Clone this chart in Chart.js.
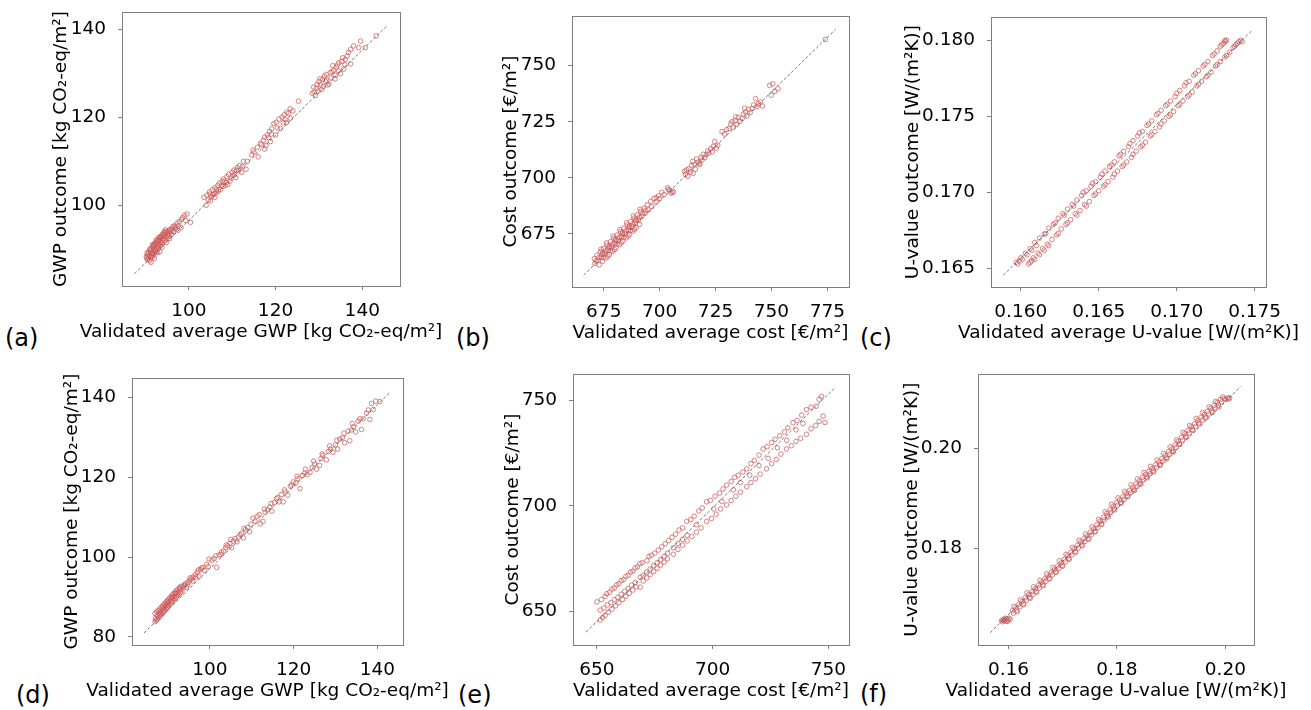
<!DOCTYPE html>
<html>
<head>
<meta charset="utf-8">
<script src="https://cdn.jsdelivr.net/npm/chart.js@4"></script>
<style>
  body { margin: 0; width: 1311px; height: 710px; overflow: hidden; background: #fff; position: relative; font-family: 'DejaVu Sans', sans-serif; }
  canvas { position: absolute; }
  .tag { position: absolute; font-size: 24px; line-height: 24px; color: #000; }
</style>
</head>
<body>
<div class="tag" style="left:5px;top:326px">(a)</div>
<div class="tag" style="left:456px;top:326px">(b)</div>
<div class="tag" style="left:860px;top:326px">(c)</div>
<div class="tag" style="left:16px;top:683px">(d)</div>
<div class="tag" style="left:458px;top:683px">(e)</div>
<div class="tag" style="left:860px;top:682px">(f)</div>
<canvas id="a"></canvas>
<canvas id="b"></canvas>
<canvas id="c"></canvas>
<canvas id="d"></canvas>
<canvas id="e"></canvas>
<canvas id="f"></canvas>
<script>
// (a) GWP, top row: [validated average, outcome]
const gwpTop = [
  [90.2,88.3],[90.5,88.8],[90.8,89.2],[91.0,88.6],[91.2,89.6],[91.4,90.0],[91.6,89.2],[91.8,90.4],[92.0,90.8],[92.2,90.0],
  [92.4,91.2],[92.6,91.5],[92.8,90.6],[93.0,91.9],[93.2,92.2],[93.4,91.3],[93.6,92.6],[93.8,92.9],[94.0,92.0],[94.2,93.3],
  [94.5,93.7],[94.8,92.8],[95.0,94.0],[95.3,93.5],[90.6,87.8],[91.0,87.4],[91.5,88.2],[92.0,88.9],[92.5,89.5],[93.0,90.2],
  [93.5,90.8],[94.0,91.4],[94.5,92.0],[95.0,92.5],[95.5,93.0],[96.0,93.4],[96.5,94.0],[91.3,87.0],[92.1,87.9],[93.3,89.4],
  [96.2,94.8],[96.8,95.3],[97.3,95.9],[97.8,96.2],[98.3,96.8],[99.0,97.7],[99.6,98.0],[100.4,96.1],[97.5,94.3],[98.2,94.9],
  [95.8,94.5],[90.4,89.2],[91.1,90.1],[91.9,91.0],[92.7,92.0],[93.5,92.9],[94.3,93.9],
  [90.3,88.0],[90.7,88.4],[90.9,89.8],[91.2,88.2],[91.5,89.0],[91.7,90.6],[91.9,89.6],[92.1,91.3],[92.3,89.4],[92.6,90.2],
  [92.9,91.6],[93.1,90.8],[93.3,92.6],[93.6,91.6],[93.9,93.4],[94.1,92.4],[94.4,93.0],[94.7,94.0],[95.1,93.2],[95.4,94.3],
  [95.7,93.8],[96.1,94.2],[96.4,95.2],[96.9,94.6],[90.5,87.6],[91.8,88.4],[92.8,89.2],[93.8,90.4],[94.8,91.5],[95.6,92.4],
  [97.0,95.0],[98.6,97.2],[99.3,96.5],[97.6,95.3],[92.4,92.0],[93.0,92.6],[91.6,91.0],[94.6,94.4],
  [103.5,101.8],[104.2,102.3],[104.8,103.0],[105.2,102.0],[105.5,103.5],[106.0,104.0],[106.3,102.8],[106.7,104.5],[107.0,105.0],[107.3,103.6],
  [107.7,105.5],[108.0,106.0],[108.4,104.5],[108.8,106.5],[109.2,107.0],[109.5,105.5],[110.0,107.5],[110.4,108.0],[110.8,106.3],[111.2,108.6],
  [111.7,109.0],[112.2,107.5],[112.6,110.0],[104.0,100.0],[105.0,101.0],[106.0,101.8],[109.0,104.7],[113.2,108.2],[105.8,102.6],[107.5,104.4],
  [104.5,101.2],[105.6,102.4],[106.8,103.2],[107.9,104.3],[108.7,105.2],[109.8,106.2],[110.6,107.0],[111.5,107.9],[112.4,108.8],[106.4,103.6],
  [108.2,105.4],[110.2,106.8],[104.9,102.5],[111.0,108.0],
  [113.5,110.0],[114.5,111.5],[115.0,112.1],[115.8,113.2],[116.5,114.1],[117.2,114.8],[117.5,115.5],[118.1,116.0],[118.6,116.8],[119.1,117.4],
  [119.6,118.6],[120.2,118.9],[120.8,119.6],[121.5,120.1],[122.0,120.6],[122.6,121.2],[123.4,122.0],[125.3,123.7],[116.0,111.0],[117.5,112.8],
  [118.8,114.5],[120.0,116.0],[121.1,117.5],[122.5,118.8],[123.4,119.8],[119.0,116.2],[121.8,118.8],
  [114.8,112.6],[116.8,113.8],[118.4,115.4],[120.4,117.6],[122.2,119.5],[123.0,120.9],[124.0,121.5],[117.8,113.6],
  [128.5,125.5],[128.8,126.9],[129.2,125.0],[129.6,127.5],[130.0,128.2],[130.3,128.8],[130.6,126.3],[131.0,127.0],[131.3,129.4],[131.7,129.8],
  [132.0,127.4],[132.3,127.6],[132.6,130.2],[133.0,130.4],[133.4,130.7],[133.7,128.8],[134.0,131.5],[134.3,132.0],[134.6,132.5],[135.0,130.0],
  [135.3,132.8],[135.7,131.0],[136.1,133.2],[136.5,134.0],[137.3,132.2],[137.3,135.5],[138.0,136.3],[139.2,135.9],[139.6,137.4],[140.7,135.9],
  [143.2,138.6],[129.8,126.0],[131.8,128.5],[133.8,129.6],
  [128.9,125.8],[130.4,127.4],[131.5,128.2],[132.8,129.0],[134.5,130.6],[135.5,133.6],[136.8,134.8],[133.2,131.8],[130.9,128.7],[129.4,126.6],
  [136.0,132.0]
];
const gwpTopFit = [[87.5, 84.4], [145.6, 140.8]];
const gwpTopXTicks = [100, 120, 140];
const gwpTopYTicks = [100, 120, 140];

// (b) cost, top row
const costTop = [
  [672.0,665.5],[673.5,667.0],[675.0,668.5],[676.5,670.0],[678.0,671.5],[679.5,673.0],[681.0,674.5],[682.5,676.0],[684.0,677.5],[685.5,679.0],
  [687.0,680.5],[688.5,682.0],[690.0,683.5],[691.5,685.0],[693.0,686.5],[694.5,688.0],[696.0,689.5],[697.5,690.8],
  [671.0,661.8],[672.5,663.2],[674.0,664.7],[675.5,666.2],[677.0,667.7],[678.5,669.2],[680.0,670.7],[681.5,672.2],[683.0,673.7],[684.5,675.2],
  [686.0,676.7],[687.5,678.2],[689.0,679.7],[690.5,681.2],[692.0,682.7],[693.5,684.2],[695.0,685.7],[696.5,687.2],[698.5,689.2],[700.0,690.7],
  [702.0,692.5],[704.5,694.5],[706.0,694.0],
  [673.0,661.2],[674.5,662.7],[676.0,664.2],[677.5,665.7],[679.0,667.2],[680.5,668.7],[682.0,670.2],[683.5,671.7],[685.0,673.2],[686.5,674.7],
  [688.0,676.2],[689.5,677.7],[691.0,679.2],
  [674.5,666.5],[677.5,669.5],[680.5,672.5],[683.5,675.5],[686.5,678.5],[689.5,681.5],[675.0,664.5],[678.0,667.5],[681.0,670.5],[684.0,673.5],
  [687.0,676.5],[670.8,664.0],[671.5,663.0],
  [672.8,664.5],[674.2,665.9],[675.8,667.4],[677.2,668.9],[678.8,670.4],[680.2,671.9],[681.8,673.4],[683.2,674.9],[684.8,676.4],[686.2,677.9],
  [687.8,679.4],[689.2,680.9],[690.8,682.4],[692.2,684.0],[693.8,685.5],[676.8,665.0],[679.8,668.0],[682.8,671.0],[685.8,674.0],[688.8,677.0],
  [673.8,668.2],[676.2,671.0],[679.2,674.0],[682.2,677.0],[685.2,680.0],[688.2,683.0],[691.2,686.0],
  [698.5,691.1],[699.5,692.0],[703.6,695.6],[703.8,694.8],[705.0,693.2],[705.9,693.4],[701.0,693.5],
  [711.1,702.9],[711.5,701.5],[712.0,703.5],[712.6,700.7],[713.0,704.0],[713.8,702.5],[714.3,705.5],[714.8,707.3],[715.5,706.0],[716.0,703.8],
  [716.5,708.5],[717.2,707.0],[717.8,705.9],[718.5,709.0],[719.0,708.0],[719.5,710.5],[720.2,709.0],[720.8,710.3],[721.5,712.0],[722.0,711.0],
  [722.8,713.0],[723.5,711.5],[724.0,714.0],[724.6,716.2],[725.3,713.2],[726.0,714.5],[715.0,702.0],[718.0,706.5],
  [727.9,720.6],[729.0,719.5],[730.0,721.5],[731.0,722.0],[731.8,724.0],[732.4,725.0],[733.0,722.5],[733.8,725.5],[734.5,723.8],[735.2,727.0],
  [736.0,725.2],[736.9,726.4],[737.5,728.5],[738.4,729.4],[739.0,727.5],[739.8,730.5],[740.5,729.0],[741.4,730.9],[742.0,732.5],[742.9,735.3],
  [743.5,731.8],[744.2,733.0],[745.1,733.8],[746.0,732.0],[734.0,727.2],[738.0,731.0],
  [749.2,741.2],[750.6,741.9],[749.9,736.8],[752.9,739.7],[751.5,738.5],[774.1,761.7]
];
const costTopFit = [[666.0, 656.6], [778.6, 766.1]];
const costTopXTicks = [675, 700, 725, 750, 775];
const costTopYTicks = [675, 700, 725, 750];

// (c) U-value, top row
const uTop = [
  [0.1597,0.1654],[0.1598,0.1653],[0.1599,0.1655],[0.1600,0.1657],[0.1601,0.1656],[0.1603,0.1660],[0.1604,0.1659],[0.1606,0.1663],[0.1607,0.1662],[0.1609,0.1667],
  [0.1610,0.1665],[0.1612,0.1670],[0.1615,0.16725],[0.1616,0.1673],[0.1618,0.16765],[0.1621,0.1679],[0.1622,0.1680],[0.1624,0.1683],[0.1627,0.1686],[0.1628,0.1685],
  [0.1630,0.1689],[0.1633,0.1692],[0.1634,0.1691],[0.1636,0.1695],[0.1639,0.1698],[0.1640,0.1700],[0.1642,0.1701],[0.1645,0.1704],[0.1646,0.1706],[0.1648,0.1707],
  [0.1651,0.1710],[0.1652,0.1712],[0.1654,0.1714],[0.1657,0.1717],[0.1658,0.1718],[0.1660,0.1720],[0.1663,0.1724],[0.1664,0.1725],[0.1666,0.1727],[0.1669,0.1730],
  [0.1670,0.1732],[0.1672,0.1734],[0.1675,0.1737],[0.1676,0.1739],[0.1678,0.1740],[0.1681,0.1744],[0.1682,0.1745],[0.1684,0.1747],[0.1687,0.1751],[0.1688,0.1752],
  [0.1690,0.1754],[0.1693,0.1757],[0.1694,0.1758],[0.1696,0.1760],[0.1699,0.1763],[0.1700,0.1765],[0.1702,0.1767],[0.1705,0.1770],[0.1706,0.1772],[0.1708,0.1773],
  [0.1711,0.1777],[0.1712,0.1778],[0.1714,0.1780],[0.1717,0.1783],[0.1718,0.1784],[0.1720,0.1786],[0.1723,0.1790],[0.1724,0.1791],[0.1726,0.1793],[0.1728,0.1796],
  [0.1729,0.1797],[0.1730,0.1798],[0.1731,0.1799],[0.1732,0.1800],[0.1731,0.1800],
  [0.1605,0.1653],[0.1606,0.1654],[0.1607,0.1655],[0.1608,0.1657],[0.1609,0.1656],[0.1611,0.1660],[0.1612,0.1659],[0.1614,0.1663],[0.1615,0.1662],[0.1617,0.1666],
  [0.1618,0.1665],[0.1620,0.1669],[0.1623,0.1672],[0.1624,0.1673],[0.1626,0.1676],[0.1629,0.1679],[0.1630,0.1680],[0.1632,0.1682],[0.1635,0.1686],[0.1636,0.1685],
  [0.1638,0.1688],[0.1641,0.1692],[0.1642,0.1691],[0.1644,0.1694],[0.1647,0.1698],[0.1648,0.1699],[0.1650,0.1701],[0.1653,0.1704],[0.1654,0.1705],[0.1656,0.1707],
  [0.1659,0.1710],[0.1660,0.1712],[0.1662,0.1714],[0.1665,0.1717],[0.1666,0.1718],[0.1668,0.1720],[0.1671,0.1723],[0.1672,0.1725],[0.1674,0.1727],[0.1677,0.1730],
  [0.1678,0.1731],[0.1680,0.1733],[0.1683,0.1737],[0.1684,0.1738],[0.1686,0.1740],[0.1689,0.1743],[0.1690,0.1745],[0.1692,0.1747],[0.1695,0.1750],[0.1696,0.1751],
  [0.1698,0.1753],[0.1701,0.1757],[0.1702,0.1758],[0.1704,0.1760],[0.1707,0.1763],[0.1708,0.1764],[0.1710,0.1766],[0.1713,0.1770],[0.1714,0.1771],[0.1716,0.1773],
  [0.1719,0.1776],[0.1720,0.1777],[0.1722,0.1779],[0.1725,0.1783],[0.1726,0.1784],[0.1728,0.1786],[0.1731,0.1789],[0.1732,0.1790],[0.1734,0.1792],[0.1736,0.1795],
  [0.1737,0.1796],[0.1738,0.1797],[0.1739,0.1798],[0.1740,0.1799],[0.1741,0.1800],[0.1742,0.1799]
];
const uTopFit = [[0.15888, 0.16456], [0.17487, 0.18068]];
const uTopXTicks = [0.160, 0.165, 0.170, 0.175];
const uTopYTicks = [0.165, 0.170, 0.175, 0.180];

// (d) GWP, bottom row
const gwpBottom = [
  [86.9,83.8],[87.2,84.1],[87.5,84.5],[87.8,84.8],[88.1,85.2],[88.4,85.6],[88.7,85.9],[89.0,86.3],[89.3,86.7],[89.6,87.0],
  [89.9,87.4],[90.2,87.8],[90.5,88.2],[90.8,88.5],[91.1,88.9],[91.4,89.3],[91.7,89.6],[92.0,90.0],[92.3,90.3],[92.6,90.7],[93.0,91.1],
  [86.9,85.9],[87.3,86.3],[87.7,86.6],[88.0,87.0],[88.4,87.4],[88.7,87.7],[89.0,88.1],[89.3,88.4],[89.6,88.8],[89.9,89.1],
  [90.2,89.5],[90.5,89.8],[90.8,90.2],[91.1,90.5],[91.4,90.9],[91.7,91.2],[92.0,91.6],[92.4,92.0],[92.8,92.4],[93.2,92.7],
  [88.0,86.0],[89.0,87.2],[90.0,88.4],[91.0,89.6],[92.0,90.8],[93.0,92.0],[93.6,92.4],[94.0,93.0],[94.4,92.4],[94.8,93.6],
  [95.2,94.2],[95.6,94.5],[96.0,95.0],[96.5,95.6],[97.0,96.2],[97.4,95.2],[97.8,96.8],[98.3,97.4],[98.8,96.6],[99.2,98.2],
  [99.6,97.6],[101.0,99.6],[101.6,97.4],[102.2,100.5],[102.8,101.2],[103.3,101.5],[103.8,102.3],[104.3,102.8],[104.8,103.4],[105.2,102.3],
  [105.6,104.0],[106.0,104.6],[106.5,103.8],[107.2,105.6],[107.6,106.0],[108.0,104.8],[108.5,106.8],[109.0,107.4],[109.5,106.3],[110.3,109.7],
  [110.8,109.0],[111.3,110.2],[112.0,108.3],[112.7,108.9],[113.2,111.2],[113.8,111.8],[114.3,112.5],[114.8,111.5],[115.4,113.6],[115.9,114.6],
  [116.5,113.8],[117.0,115.6],[117.5,113.8],[118.0,116.3],[118.6,115.5],[119.2,117.7],[119.9,118.8],[120.5,118.5],[121.0,119.6],[121.5,117.1],
  [122.1,120.4],[122.6,121.0],[123.2,120.6],[123.9,121.2],[124.4,122.4],[125.0,123.3],[125.5,122.0],[126.2,122.9],[126.5,124.6],[127.0,125.4],
  [127.8,124.3],[128.3,126.4],[128.8,127.0],[129.4,126.2],[130.0,128.0],[130.5,127.0],[131.0,129.5],[131.6,129.8],[132.2,128.6],[133.0,131.5],
  [133.4,129.1],[133.8,131.8],[134.3,132.6],[134.8,131.3],[135.4,134.0],[136.2,131.9],[136.6,134.6],[137.4,136.0],[138.2,134.4],[139.0,136.9],
  [140.6,138.9],
  [87.0,84.6],[87.4,85.4],[87.9,85.8],[88.3,86.5],[88.8,86.9],[89.2,87.6],[89.7,88.0],[90.1,88.7],[90.6,89.1],[91.0,89.8],
  [91.5,90.1],[91.9,90.9],[92.4,91.2],[92.9,91.8],[93.3,91.5],[93.8,92.8],[94.2,93.4],[94.7,93.0],[95.3,94.8],[95.9,94.0],
  [96.6,95.0],[97.3,96.8],[98.0,97.2],[99.8,99.5],[100.5,99.2],[101.4,100.3],[102.6,100.6],[103.9,103.0],[105.0,104.4],[106.8,105.0],
  [108.2,107.2],[109.8,108.2],[111.8,110.6],[113.0,112.0],[114.6,113.4],[116.2,114.9],[117.8,116.8],[119.5,118.0],[120.8,120.2],[122.8,122.0],
  [124.8,124.0],[126.8,125.8],[128.6,127.8],[130.3,129.2],[132.0,131.0],[134.0,133.4],[135.8,134.6],[137.8,136.8],[138.6,138.4],[139.6,139.0]
];
const gwpBottomFit = [[84.28, 80.99], [143.1, 141.3]];
const gwpBottomXTicks = [100, 120, 140];
const gwpBottomYTicks = [80, 100, 120, 140];

// (e) cost, bottom row
const costBottom = [
  [650.0,654.4],[652.0,655.5],[653.5,657.0],[654.3,658.3],[655.5,659.0],[656.5,660.5],[657.5,661.0],[658.5,662.5],[659.5,663.0],[660.5,664.5],
  [661.5,665.0],[662.5,666.5],[663.5,667.0],[664.5,668.5],[665.5,669.0],[666.5,670.5],[667.5,671.0],[668.5,672.5],[669.5,673.0],[671.6,673.9],
  [672.5,676.0],[673.5,676.5],[675.0,677.5],[676.5,679.0],[678.0,680.5],[679.5,682.0],[681.0,683.5],[682.5,685.0],[684.0,686.5],[685.5,688.5],
  [687.0,689.5],[688.8,692.6],[690.5,693.5],[692.0,695.0],[694.0,697.5],[695.5,699.0],[697.4,701.9],[699.0,702.5],[701.0,704.5],[703.0,706.0],
  [704.5,708.0],[706.0,709.8],[708.0,711.5],[709.5,713.5],[711.0,714.5],[713.0,716.0],[714.7,717.5],[716.5,720.0],[718.0,721.5],[720.0,724.0],
  [721.8,726.9],[723.5,728.0],[725.5,730.0],[727.0,731.5],[729.0,733.2],[731.0,735.0],[732.5,737.0],[734.7,739.4],[736.5,740.5],[738.5,743.0],
  [740.5,745.6],[742.5,746.8],[744.7,747.2],[746.0,750.5],[747.0,751.9],
  [651.4,650.5],[653.0,651.5],[654.5,653.0],[656.0,654.0],[657.5,655.5],[659.0,656.5],[660.5,658.0],[662.0,659.5],[663.5,660.8],[665.0,662.3],
  [666.5,663.6],[668.7,666.1],[670.0,667.0],[671.5,668.6],[673.0,670.0],[674.5,671.6],[676.0,673.0],[677.5,674.5],[679.0,676.0],[680.5,677.5],
  [683.0,680.1],[685.0,682.0],[687.0,684.0],[689.0,686.0],
  [651.4,645.8],[652.5,647.0],[653.5,648.0],[655.0,649.5],[656.5,651.0],[658.0,652.5],[659.5,654.0],[661.0,655.5],[662.5,657.0],[664.0,658.5],
  [665.5,660.0],[667.0,661.5],[668.7,661.4],[670.0,664.3],[671.5,665.8],[673.0,667.3],[674.5,668.8],[676.0,670.3],[677.5,671.8],[679.0,673.3],
  [680.5,674.8],[683.0,677.0],[685.0,679.3],[687.0,681.3],[689.0,683.3],[691.0,685.5],[693.0,687.5],[695.0,689.5],[697.4,692.6],[699.5,694.0],
  [701.5,696.0],[703.5,698.5],[706.0,700.4],[708.0,702.5],[710.0,704.5],[712.0,706.5],[714.7,709.0],[716.5,711.0],[718.5,712.8],[720.5,715.0],
  [723.3,717.5],[725.5,720.0],[727.5,722.0],[729.5,724.5],[731.9,726.9],[734.0,728.5],[736.0,730.5],[738.0,732.0],[740.5,733.9],[742.5,736.5],
  [744.5,738.0],[746.0,740.0],[747.7,742.5],[748.5,739.5],
  [693.0,691.0],[700.5,698.5],[704.0,702.0],[709.0,707.5],[712.0,711.0],[716.0,714.5],[720.0,719.0],[724.0,722.5],[728.0,727.5],[732.0,731.0],
  [736.0,736.0],[739.0,739.0]
];
const costBottomFit = [[645.26, 640.03], [753.0, 756.2]];
const costBottomXTicks = [650, 700, 750];
const costBottomYTicks = [650, 700, 750];

// (f) U-value, bottom row
const uBottom = [
  [0.1587,0.1655],[0.1589,0.1653],[0.1591,0.1658],[0.1593,0.1656],[0.1595,0.1654],[0.1597,0.1659],[0.1599,0.1656],[0.1601,0.1660],[0.1603,0.1658],[0.1590,0.1656],
  [0.1594,0.1660],[0.1598,0.1654],
  [0.1607,0.1675],[0.1609,0.1670],[0.1613,0.1681],[0.1615,0.1676],[0.1619,0.1688],[0.1621,0.1683],[0.1625,0.1694],[0.1627,0.1689],
  [0.1631,0.1701],[0.1633,0.1696],[0.1637,0.1707],[0.1639,0.1702],[0.1643,0.1713],[0.1645,0.1708],[0.1649,0.1719],[0.1651,0.1714],
  [0.1655,0.1726],[0.1657,0.1721],[0.1661,0.1732],[0.1663,0.1727],[0.1667,0.1739],[0.1669,0.1734],[0.1673,0.1745],[0.1675,0.1740],
  [0.1679,0.1752],[0.1681,0.1747],[0.1685,0.1758],[0.1687,0.1753],[0.1691,0.1765],[0.1693,0.1760],[0.1697,0.1771],[0.1699,0.1766],
  [0.1703,0.1778],[0.1705,0.1773],[0.1709,0.1785],[0.1711,0.1780],[0.1715,0.1792],[0.1717,0.1787],[0.1721,0.1799],[0.1723,0.1794],
  [0.1727,0.1806],[0.1729,0.1801],[0.1733,0.1812],[0.1735,0.1807],[0.1739,0.1819],[0.1741,0.1814],[0.1745,0.1825],[0.1747,0.1820],
  [0.1751,0.1832],[0.1753,0.1827],[0.1757,0.1839],[0.1759,0.1834],[0.1763,0.1847],[0.1765,0.1842],[0.1769,0.1854],[0.1771,0.1849],
  [0.1775,0.1862],[0.1777,0.1857],[0.1781,0.1870],[0.1783,0.1865],[0.1787,0.1877],[0.1789,0.1872],[0.1793,0.1884],[0.1795,0.1879],
  [0.1799,0.1891],[0.1801,0.1886],[0.1805,0.1897],[0.1807,0.1892],[0.1811,0.1903],[0.1813,0.1898],[0.1817,0.1910],[0.1819,0.1905],
  [0.1823,0.1916],[0.1825,0.1911],[0.1829,0.1922],[0.1831,0.1917],[0.1835,0.1929],[0.1837,0.1924],[0.1841,0.1935],[0.1843,0.1930],
  [0.1847,0.1942],[0.1849,0.1937],[0.1853,0.1948],[0.1855,0.1943],[0.1859,0.1954],[0.1861,0.1949],[0.1865,0.1960],[0.1867,0.1955],
  [0.1871,0.1967],[0.1873,0.1962],[0.1877,0.1973],[0.1879,0.1968],[0.1883,0.1980],[0.1885,0.1975],[0.1889,0.1986],[0.1891,0.1981],
  [0.1895,0.1993],[0.1897,0.1988],[0.1901,0.1999],[0.1903,0.1994],[0.1907,0.2007],[0.1909,0.2002],[0.1913,0.2014],[0.1915,0.2009],
  [0.1919,0.2022],[0.1921,0.2017],[0.1925,0.2029],[0.1927,0.2024],[0.1931,0.2036],[0.1933,0.2031],[0.1937,0.2043],[0.1939,0.2038],
  [0.1943,0.2049],[0.1945,0.2044],[0.1949,0.2056],[0.1951,0.2051],[0.1955,0.2062],[0.1957,0.2057],[0.1961,0.2068],[0.1963,0.2063],
  [0.1967,0.2074],[0.1969,0.2069],[0.1973,0.2080],[0.1975,0.2075],[0.1979,0.2086],[0.1981,0.2081],[0.1985,0.2092],[0.1987,0.2087],
  [0.1991,0.2098],[0.1993,0.2093],[0.1995,0.2103],[0.1998,0.2100],[0.2001,0.2098],[0.2004,0.2101],[0.2006,0.2099],[0.2008,0.2101],
  [0.1610,0.1684],[0.1622,0.1697],[0.1634,0.1711],[0.1646,0.1723],[0.1658,0.1736],[0.1670,0.1749],[0.1682,0.1762],[0.1694,0.1775],
  [0.1706,0.1788],[0.1718,0.1802],[0.1730,0.1816],[0.1742,0.1829],[0.1754,0.1843],[0.1766,0.1858],[0.1778,0.1873],[0.1790,0.1888],
  [0.1802,0.1901],[0.1814,0.1914],[0.1826,0.1927],[0.1838,0.1939],[0.1850,0.1952],[0.1862,0.1964],[0.1874,0.1977],[0.1886,0.1990],
  [0.1898,0.2003],[0.1910,0.2017],[0.1922,0.2032],[0.1934,0.2046],[0.1946,0.2060],[0.1958,0.2072],[0.1970,0.2083],[0.1982,0.2094],
  [0.1616,0.1673],[0.1628,0.1687],[0.1640,0.1700],[0.1652,0.1712],[0.1664,0.1725],[0.1676,0.1739],[0.1688,0.1752],[0.1700,0.1764],
  [0.1712,0.1778],[0.1724,0.1792],[0.1736,0.1805],[0.1748,0.1818],[0.1760,0.1833],[0.1772,0.1848],[0.1784,0.1863],[0.1796,0.1877],
  [0.1808,0.1890],[0.1820,0.1903],[0.1832,0.1915],[0.1844,0.1928],[0.1856,0.1941],[0.1868,0.1953],[0.1880,0.1966],[0.1892,0.1979],
  [0.1904,0.1993],[0.1916,0.2008],[0.1928,0.2022],[0.1940,0.2036],[0.1952,0.2049],[0.1964,0.2061],[0.1976,0.2072],[0.1988,0.2083]
];
const uBottomFit = [[0.15662, 0.16314], [0.20282, 0.21238]];
const uBottomXTicks = [0.16, 0.18, 0.20];
const uBottomYTicks = [0.18, 0.20];

const gwpX = 'Validated average GWP [kg CO\u2082-eq/m\u00b2]';
const gwpY = 'GWP outcome [kg CO\u2082-eq/m\u00b2]';
const costX = 'Validated average cost [\u20ac/m\u00b2]';
const costY = 'Cost outcome [\u20ac/m\u00b2]';
const uX = 'Validated average U-value [W/(m\u00b2K)]';
const uY = 'U-value outcome [W/(m\u00b2K)]';

// box = plot frame on the page: left, top, right, bottom
const panels = [
  { id: 'a', box: [122, 9, 400, 286], points: gwpTop, fit: gwpTopFit, xr: [84.6, 148.7], yr: [81.6, 144.0], xt: gwpTopXTicks, yt: gwpTopYTicks, dx: 0, dy: 0, xTitle: gwpX, yTitle: gwpY, yGap: 56 },
  { id: 'b', box: [572, 13, 849, 287], points: costTop, fit: costTopFit, xr: [660.8, 784.7], yr: [651.3, 772.1], xt: costTopXTicks, yt: costTopYTicks, dx: 0, dy: 0, xTitle: costX, yTitle: costY, yGap: 56 },
  { id: 'c', box: [991, 14, 1266, 287], points: uTop, fit: uTopFit, xr: [0.15809, 0.17573], yr: [0.16378, 0.18152], xt: uTopXTicks, yt: uTopYTicks, dx: 3, dy: 3, xTitle: uX, yTitle: uY, yGap: 73 },
  { id: 'd', box: [132, 375, 403, 645], points: gwpBottom, fit: gwpBottomFit, xr: [81.42, 146.1], yr: [77.98, 144.77], xt: gwpBottomXTicks, yt: gwpBottomYTicks, dx: 0, dy: 0, xTitle: gwpX, yTitle: gwpY, yGap: 55 },
  { id: 'e', box: [573, 371, 849, 645], points: costBottom, fit: costBottomFit, xr: [639.66, 758.9], yr: [633.95, 762.45], xt: costBottomXTicks, yt: costBottomYTicks, dx: 0, dy: 0, xTitle: costX, yTitle: costY, yGap: 55 },
  { id: 'f', box: [978, 371, 1254, 645], points: uBottom, fit: uBottomFit, xr: [0.15437, 0.20528], yr: [0.16065, 0.21487], xt: uBottomXTicks, yt: uBottomYTicks, dx: 2, dy: 2, xTitle: uX, yTitle: uY, yGap: 61 }
];

const FONT = 'DejaVu Sans';
const PAD = 130;

// full box frame plus axis titles (titles drawn without maxWidth squeezing)
const frame = {
  id: 'frame',
  afterDraw(chart, args, opts) {
    const { ctx, chartArea: a } = chart;
    ctx.save();
    ctx.strokeStyle = '#808080';
    ctx.lineWidth = 1;
    ctx.strokeRect(Math.round(a.left) + 0.5, Math.round(a.top) + 0.5, Math.round(a.right - a.left), Math.round(a.bottom - a.top));
    ctx.fillStyle = '#000';
    ctx.font = '18.5px "' + FONT + '"';
    ctx.textAlign = 'center';
    ctx.textBaseline = 'alphabetic';
    ctx.fillText(opts.xTitle, (a.left + a.right) / 2, a.bottom + 50.5);
    ctx.translate(a.left - opts.yGap, (a.top + a.bottom) / 2);
    ctx.rotate(-Math.PI / 2);
    ctx.fillText(opts.yTitle, 0, 0);
    ctx.restore();
  }
};

function axis(range, ticks, digits, isX) {
  return {
    type: 'linear',
    min: range[0],
    max: range[1],
    afterBuildTicks: s => { s.ticks = ticks.map(v => ({ value: v })); },
    afterFit: s => { if (isX) { s.height = 60; } else { s.width = 100; } },
    border: { display: false },
    grid: { drawOnChartArea: false, drawTicks: true, tickLength: 4, tickColor: '#808080', lineWidth: 1 },
    ticks: {
      autoSkip: false,
      maxRotation: 0,
      padding: isX ? 10 : 12,
      color: '#000',
      font: { family: FONT, size: 18.5, lineHeight: 1.2 },
      callback: v => Number(v).toFixed(digits)
    }
  };
}

panels.forEach(p => {
  const [L, T, R, B] = p.box;
  const canvas = document.getElementById(p.id);
  const w = (R - L) + 2 * PAD;
  const h = (B - T) + 80;
  canvas.width = w;
  canvas.height = h;
  canvas.style.width = w + 'px';
  canvas.style.height = h + 'px';
  canvas.style.left = (L - PAD) + 'px';
  canvas.style.top = (T - 20) + 'px';

  new Chart(canvas, {
    type: 'scatter',
    data: {
      datasets: [
        {
          data: p.fit.map(([x, y]) => ({ x, y })),
          showLine: true,
          borderColor: 'rgba(95,95,95,0.85)',
          borderWidth: 1,
          borderDash: [3, 2],
          pointRadius: 0
        },
        {
          data: p.points.map(([x, y]) => ({ x, y })),
          pointRadius: 2.3,
          pointBorderWidth: 0.9,
          pointBorderColor: 'rgba(205,92,92,0.85)',
          pointBackgroundColor: 'rgba(0,0,0,0)'
        }
      ]
    },
    options: {
      responsive: false,
      animation: false,
      devicePixelRatio: 1,
      events: [],
      layout: { padding: { left: PAD - 100, top: 20, right: PAD, bottom: 0 } },
      scales: {
        x: axis(p.xr, p.xt, p.dx, true),
        y: axis(p.yr, p.yt, p.dy, false)
      },
      plugins: {
        legend: { display: false },
        tooltip: { enabled: false },
        frame: { xTitle: p.xTitle, yTitle: p.yTitle, yGap: p.yGap }
      }
    },
    plugins: [frame]
  });
});
</script>
</body>
</html>
